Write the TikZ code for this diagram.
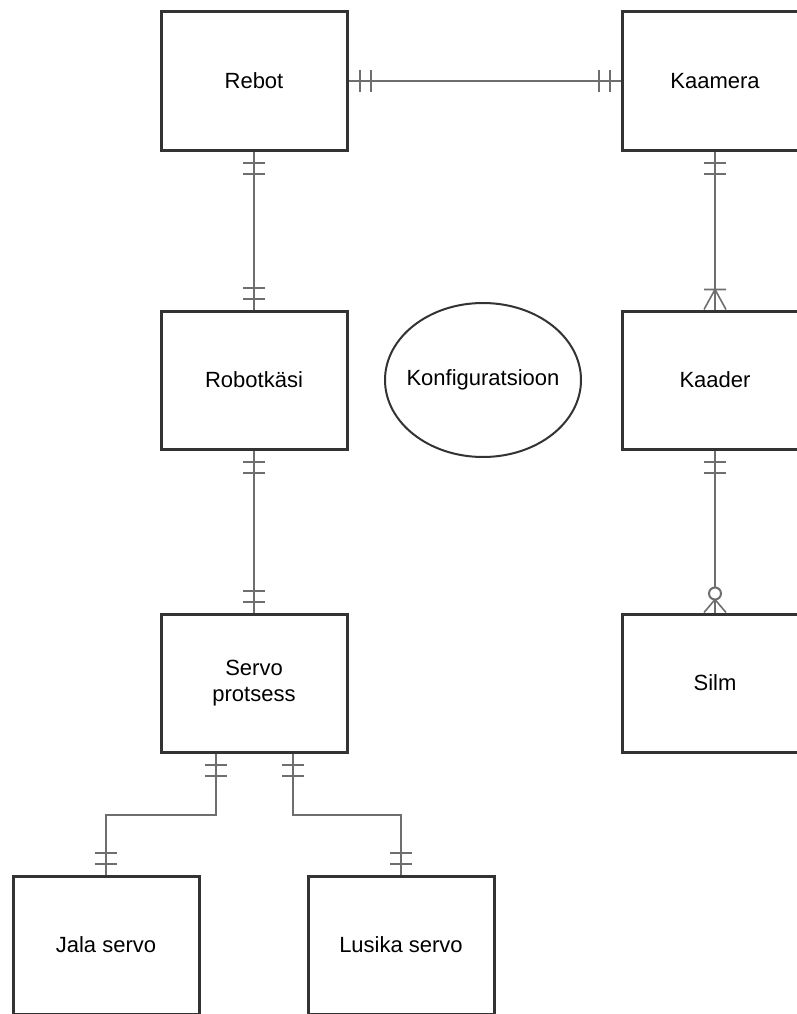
\documentclass[tikz,border=0pt]{standalone}
\usepackage{fontspec}
\setmainfont{Liberation Sans}
\usetikzlibrary{decorations.markings}

\definecolor{boxline}{RGB}{51,51,51}
\definecolor{linkline}{RGB}{110,110,110}

\begin{document}
\begin{tikzpicture}[
  x=1pt, y=-1pt,
  entity/.style={rectangle, draw=boxline, line width=3pt, minimum width=186pt,
    minimum height=138pt, align=center, font=\fontsize{22}{26}\selectfont},
  konf/.style={font=\fontsize{22}{26}\selectfont},
  konfring/.style={draw=boxline, line width=2pt},
  link/.style={draw=linkline, line width=2pt},
  onestart/.style={postaction={decorate, decoration={markings,
    mark=at position 11pt with {\draw[link] (0,-11pt) -- (0,11pt);},
    mark=at position 22pt with {\draw[link] (0,-11pt) -- (0,11pt);}}}},
  oneend/.style={postaction={decorate, decoration={markings,
    mark=at position -11pt with {\draw[link] (0,-11pt) -- (0,11pt);},
    mark=at position -22pt with {\draw[link] (0,-11pt) -- (0,11pt);}}}},
  manyend/.style={postaction={decorate, decoration={markings,
    mark=at position -20pt with {\draw[link, line width=1.6pt] (0,-11pt) -- (0,11pt)
      (0,0) -- (20pt,11pt) (0,0) -- (20pt,-11pt);}}}},
  zeromanyend/.style={postaction={decorate, decoration={markings,
    mark=at position -13pt with {\draw[link, line width=1.6pt] (0,0) -- (13pt,11pt)
      (0,0) -- (13pt,-11pt);},
    mark=at position -19pt with {\draw[link, fill=white] (0,0) circle (6pt);}}}}
]
\useasboundingbox (0,0) rectangle (797,1014);
\clip (0,0) rectangle (797,1014);

% entities
\node[entity] (rebot) at (254,81) {Rebot};
\node[entity] (kaamera) at (715,81) {Kaamera};
\node[entity] (robotkasi) at (254,380) {Robotkäsi};
\node[konf] (konfig) at (483,380) {Konfiguratsioon};
\draw[konfring] (konfig.center) ellipse [x radius=98, y radius=77];
\node[entity] (kaader) at (715,380) {Kaader};
\node[entity] (servo) at (254,683) {Servo\\protsess};
\node[entity] (silm) at (715,683) {Silm};
\node[entity] (jala) at (106,945) {Jala servo};
\node[entity] (lusika) at (401,945) {Lusika servo};

% relations
\draw[link, onestart, oneend] (rebot.east) -- (kaamera.west);
\draw[link, onestart, oneend] (rebot.south) -- (robotkasi.north);
\draw[link, onestart, oneend] (robotkasi.south) -- (servo.north);
\draw[link, onestart, manyend] (kaamera.south) -- (kaader.north);
\draw[link, onestart, zeromanyend] (kaader.south) -- (silm.north);
\draw[link, onestart, oneend] ([xshift=-38pt]servo.south) -- ++(0,61) -| (jala.north);
\draw[link, onestart, oneend] ([xshift=39pt]servo.south) -- ++(0,61) -| (lusika.north);
\end{tikzpicture}
\end{document}
